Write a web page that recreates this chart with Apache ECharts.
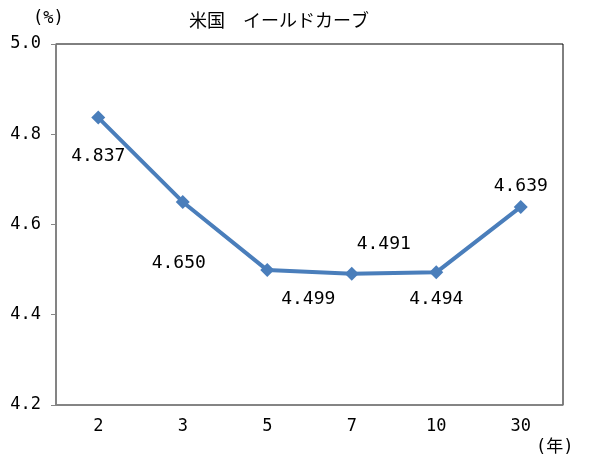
<!DOCTYPE html>
<html>
<head>
<meta charset="utf-8">
<script src="https://cdn.jsdelivr.net/npm/echarts@6/dist/echarts.min.js"></script>
<style>
  html, body { margin: 0; padding: 0; background: #fff; }
  #chart { width: 593px; height: 469px; }
</style>
</head>
<body>
<div id="chart"></div>
<script>
// 年限
const maturities = ['2', '3', '5', '7', '10', '30']
// 利回り (%)
const yields = [4.837, 4.650, 4.499, 4.491, 4.494, 4.639]
// ラベル位置 (点からのずれ)
const labelOffsets = [[0, 39], [-4, 61], [41, 29], [32, -29], [0, 27], [0, -21]]

const numFont = '"DejaVu Sans Mono", "Liberation Mono", "Noto Sans CJK JP", monospace'
const jpFont = '"Noto Sans CJK JP", sans-serif'

const myChart = echarts.init(document.getElementById('chart'))

const option = {
  animation: false,
  title: {
    text: '米国　イールドカーブ',
    left: 274,
    textAlign: 'center',
    top: 6,
    textStyle: { fontFamily: jpFont, fontSize: 18, fontWeight: 'normal', color: '#000' },
  },
  graphic: [
    {
      type: 'text',
      left: 536,
      top: 439,
      style: { text: '(年)', font: '17px ' + numFont, fill: '#000' },
    },
    {
      type: 'text',
      left: 33,
      top: 10,
      style: { text: '(%)', font: '17px ' + numFont, fill: '#000' },
    },
  ],
  grid: {
    left: 56,
    right: 30,
    top: 44,
    bottom: 64,
    show: true,
    borderColor: '#000',
    borderWidth: 1,
  },
  xAxis: {
    type: 'category',
    data: maturities,
    boundaryGap: true,
    axisLine: { lineStyle: { color: '#868686', width: 1.5 } },
    axisTick: { show: false },
    axisLabel: { color: '#000', fontFamily: numFont, fontSize: 17, margin: 13 },
  },
  yAxis: {
    type: 'value',
    min: 4.2,
    max: 5.0,
    interval: 0.2,
    axisLine: { show: true, lineStyle: { color: '#868686', width: 1.5 } },
    axisTick: { show: true, length: 5, lineStyle: { color: '#868686' } },
    splitLine: { show: false },
    axisLabel: {
      color: '#000',
      fontFamily: numFont,
      fontSize: 17,
      margin: 15,
      formatter: (v) => v.toFixed(1),
    },
  },
  series: [
    {
      type: 'line',
      data: yields.map((v, i) => ({
        value: v,
        label: { offset: labelOffsets[i] },
      })),
      symbol: 'diamond',
      symbolSize: 14,
      lineStyle: { color: '#4a7ebb', width: 4 },
      itemStyle: { color: '#4a7ebb' },
      label: {
        show: true,
        position: 'inside',
        align: 'center',
        verticalAlign: 'middle',
        color: '#000',
        fontFamily: numFont,
        fontSize: 18,
        formatter: (p) => p.value.toFixed(3),
      },
    },
  ],
}

option && myChart.setOption(option)
</script>
</body>
</html>
